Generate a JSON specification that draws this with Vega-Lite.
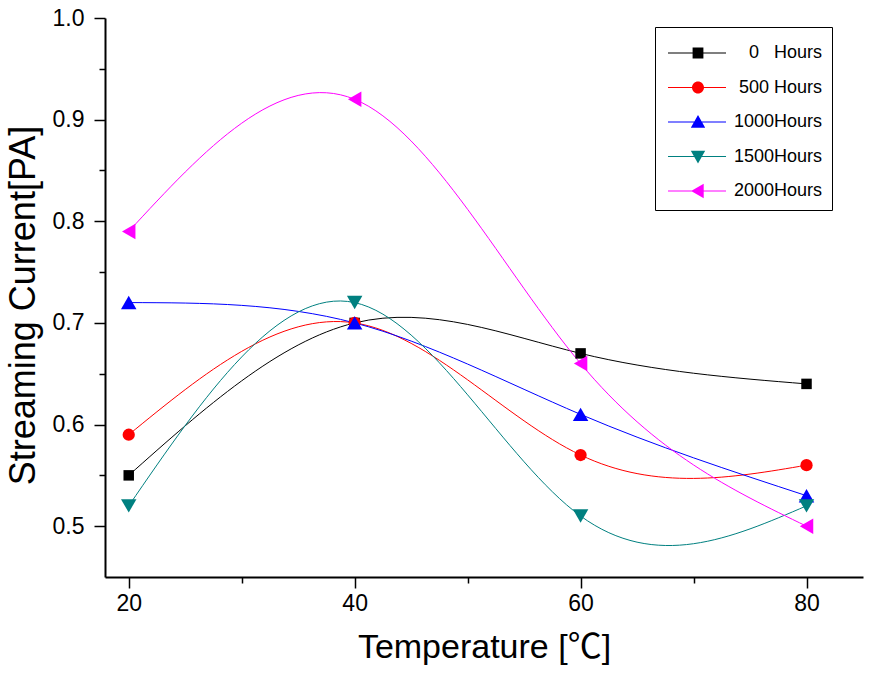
{
  "$schema": "https://vega.github.io/schema/vega-lite/v6.json",
  "width": 758,
  "height": 559,
  "autosize": {"type": "none"},
  "padding": {"left": 105, "top": 18, "right": 11, "bottom": 98},
  "background": "white",
  "config": {
    "view": {"stroke": null},
    "font": "Liberation Sans",
    "axis": {
      "grid": false,
      "domainColor": "black",
      "domainWidth": 2,
      "tickColor": "black",
      "tickWidth": 1.5,
      "labelColor": "black",
      "titleColor": "black",
      "titleFontWeight": "normal"
    },
    "legend": {
      "orient": "none",
      "legendX": 550,
      "legendY": 9,
      "strokeColor": "black",
      "padding": 10,
      "rowPadding": 16.5,
      "symbolSize": 144,
      "symbolOpacity": 1,
      "symbolStrokeWidth": 0,
      "labelFontSize": 18,
      "labelColor": "black"
    }
  },
  "data": {
    "values": [
      {"T": 20, "I": 0.55, "series": "0\u00a0\u00a0\u00a0Hours"},
      {"T": 40, "I": 0.70, "series": "0\u00a0\u00a0\u00a0Hours"},
      {"T": 60, "I": 0.67, "series": "0\u00a0\u00a0\u00a0Hours"},
      {"T": 80, "I": 0.64, "series": "0\u00a0\u00a0\u00a0Hours"},
      {"T": 20, "I": 0.59, "series": "500 Hours"},
      {"T": 40, "I": 0.70, "series": "500 Hours"},
      {"T": 60, "I": 0.57, "series": "500 Hours"},
      {"T": 80, "I": 0.56, "series": "500 Hours"},
      {"T": 20, "I": 0.72, "series": "1000Hours"},
      {"T": 40, "I": 0.70, "series": "1000Hours"},
      {"T": 60, "I": 0.61, "series": "1000Hours"},
      {"T": 80, "I": 0.53, "series": "1000Hours"},
      {"T": 20, "I": 0.52, "series": "1500Hours"},
      {"T": 40, "I": 0.72, "series": "1500Hours"},
      {"T": 60, "I": 0.51, "series": "1500Hours"},
      {"T": 80, "I": 0.52, "series": "1500Hours"},
      {"T": 20, "I": 0.79, "series": "2000Hours"},
      {"T": 40, "I": 0.92, "series": "2000Hours"},
      {"T": 60, "I": 0.66, "series": "2000Hours"},
      {"T": 80, "I": 0.50, "series": "2000Hours"}
    ]
  },
  "encoding": {
    "x": {
      "field": "T",
      "type": "quantitative",
      "scale": {"domain": [17.9, 85], "nice": false, "zero": false},
      "axis": {
        "title": "Temperature [\u2103]",
        "titleFont": "Liberation Sans, Noto Sans CJK KR",
        "titleFontSize": 34,
        "titlePadding": 15,
        "labelFontSize": 23,
        "labelPadding": 4,
        "values": [20, 30, 40, 50, 60, 70, 80],
        "labelExpr": "datum.value % 20 === 0 ? datum.label : ''",
        "tickSize": {"condition": {"test": "datum.value % 20 === 0", "value": 11}, "value": 6}
      }
    },
    "y": {
      "field": "I",
      "type": "quantitative",
      "scale": {"domain": [0.45, 1.0], "nice": false, "zero": false},
      "axis": {
        "title": "Streaming Current[PA]",
        "titleFontSize": 36,
        "titlePadding": 10,
        "titleY": 287,
        "labelFontSize": 23,
        "labelPadding": 10,
        "values": [0.5, 0.55, 0.6, 0.65, 0.7, 0.75, 0.8, 0.85, 0.9, 0.95, 1.0],
        "labelExpr": "round(datum.value * 100) % 10 === 0 ? format(datum.value, '.1f') : ''",
        "tickSize": {"condition": {"test": "round(datum.value * 100) % 10 === 0", "value": 11}, "value": 6}
      }
    },
    "color": {
      "field": "series",
      "type": "nominal",
      "scale": {
        "domain": ["0\u00a0\u00a0\u00a0Hours", "500 Hours", "1000Hours", "1500Hours", "2000Hours"],
        "range": ["#000000", "#ff0000", "#0000ff", "#008080", "#ff00ff"]
      },
      "legend": {
        "title": " ",
        "titleFontSize": 1,
        "titlePadding": 6,
        "encode": {
          "labels": {"update": {"x": {"value": 157}, "align": {"value": "right"}}}
        }
      }
    }
  },
  "layer": [
    {
      "mark": {"type": "point", "filled": true, "opacity": 0},
      "encoding": {
        "shape": {
          "field": "series",
          "type": "nominal",
          "scale": {
            "domain": ["0\u00a0\u00a0\u00a0Hours", "500 Hours", "1000Hours", "1500Hours", "2000Hours"],
            "range": [
              "M-1,-0.09H8.67V0.09H-1ZM3.1,-0.9H4.9V0.9H3.1Z",
              "M-1,-0.09H8.67V0.09H-1ZM5,0A1,1,0,1,1,3,0A1,1,0,1,1,5,0Z",
              "M-1,-0.09H8.67V0.09H-1ZM4,-1.15L5.2,0.95H2.8Z",
              "M-1,-0.09H8.67V0.09H-1ZM4,1.15L2.8,-0.95H5.2Z",
              "M-1,-0.09H8.67V0.09H-1ZM2.85,0L4.95,-1.2V1.2Z"
            ]
          },
          "legend": {
            "title": " ",
            "titleFontSize": 1,
            "titlePadding": 6,
            "encode": {
              "labels": {"update": {"x": {"value": 157}, "align": {"value": "right"}}}
            }
          }
        }
      }
    },
    {
      "mark": {"type": "line", "interpolate": "natural", "strokeWidth": 1}
    },
    {
      "mark": {"type": "point", "filled": true, "opacity": 1},
      "encoding": {
        "shape": {
          "condition": [
            {"test": "datum.series === '500 Hours'", "value": "circle"},
            {"test": "datum.series === '1000Hours'", "value": "triangle-up"},
            {"test": "datum.series === '1500Hours'", "value": "triangle-down"},
            {"test": "datum.series === '2000Hours'", "value": "triangle-left"}
          ],
          "value": "square"
        },
        "size": {
          "condition": [
            {"test": "datum.series === '500 Hours'", "value": 150},
            {"test": "datum.series === '1000Hours' || datum.series === '1500Hours' || datum.series === '2000Hours'", "value": 240}
          ],
          "value": 110
        }
      }
    }
  ]
}
